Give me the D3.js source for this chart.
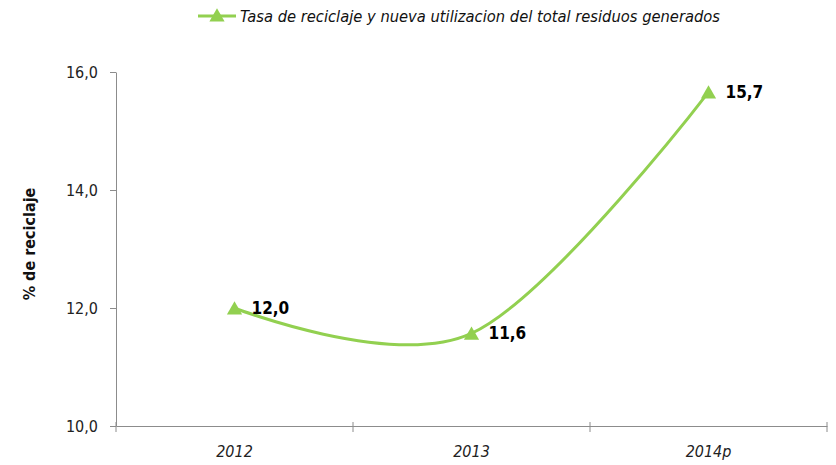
<!DOCTYPE html>
<html lang="en">
<head>
    <meta charset="UTF-8">
    <title>Tasa de reciclaje</title>
    <script src="https://d3js.org/d3.v7.min.js"></script>
    <style>
        body { margin: 0; background: #fff; }
        text { font-family: "DejaVu Sans Condensed", "Liberation Sans Narrow", sans-serif; }
    </style>
</head>
<body>
    <svg id="chart" width="836" height="465"></svg>
    <script>
        // Data
        const years = ["2012", "2013", "2014p"];
        const rates = [12.0, 11.57, 15.66];
        const yTicks = [10, 12, 14, 16];
        const seriesName = "Tasa de reciclaje y nueva utilizacion del total residuos generados";
        const yTitle = "% de reciclaje";

        const green = "#92D050";
        const axisColor = "#8c8c8c";
        const fmt = v => d3.format(".1f")(v).replace(".", ",");

        const svg = d3.select("#chart");
        const margin = { top: 72, right: 10, bottom: 39, left: 116 };
        const width = 836 - margin.left - margin.right,
              height = 465 - margin.top - margin.bottom;

        const x = d3.scaleBand().domain(years).range([0, 711]);
        const y = d3.scaleLinear().domain([10, 16]).range([height, 0]);
        const cx = d => x(d.year) + x.bandwidth() / 2;

        const g = svg.append("g").attr("transform", `translate(${margin.left},${margin.top})`);

        // y axis
        const yAxis = g.append("g").call(d3.axisLeft(y).tickValues(yTicks).tickFormat(fmt).tickSize(6).tickSizeOuter(0));
        yAxis.select(".domain").attr("stroke", axisColor);
        yAxis.selectAll(".tick line").attr("stroke", axisColor);
        yAxis.selectAll(".tick text").attr("font-size", 16).attr("fill", "#222").attr("x", -18)
            .style("font-family", "'DejaVu Sans Condensed', sans-serif");

        // x axis
        const xAxis = g.append("g").attr("transform", `translate(0,${height})`)
            .call(d3.axisBottom(x).tickSize(0).tickSizeOuter(0));
        xAxis.select(".domain").attr("stroke", axisColor);
        xAxis.selectAll(".tick text").attr("font-size", 16).attr("font-style", "italic").attr("fill", "#222")
            .attr("dy", 0).attr("y", 31)
            .style("font-family", "'DejaVu Sans Condensed', sans-serif");
        // tick marks between categories (Excel style)
        const bounds = [0].concat(years.map(d => x(d) + x.bandwidth()));
        g.append("g").selectAll("line").data(bounds).enter().append("line")
            .attr("x1", d => d).attr("x2", d => d)
            .attr("y1", height - 4).attr("y2", height + 6)
            .attr("stroke", axisColor);

        // y title
        g.append("text")
            .attr("transform", `translate(-81,${height / 2 - 5}) rotate(-90)`)
            .attr("text-anchor", "middle")
            .attr("font-size", 16).attr("font-weight", "bold").attr("fill", "#111")
            .text(yTitle);

        // smoothed line
        const pts = years.map((d, i) => ({ year: d, v: rates[i] }));
        const line = d3.line()
            .x(cx)
            .y(d => y(d.v))
            .curve(d3.curveCardinal.tension(0));
        g.append("path").datum(pts)
            .attr("fill", "none").attr("stroke", green).attr("stroke-width", 3)
            .attr("d", line);

        const tri = d3.symbol().type(d3.symbolTriangle).size(100);
        g.selectAll(".marker").data(pts).enter().append("path")
            .attr("class", "marker")
            .attr("transform", d => `translate(${cx(d)},${y(d.v) + 2})`)
            .attr("d", tri).attr("fill", green);

        g.selectAll(".lbl").data(pts).enter().append("text")
            .attr("class", "lbl")
            .attr("x", d => cx(d) + 17)
            .attr("y", d => y(d.v) + 6)
            .attr("font-size", 17).attr("font-weight", "bold").attr("fill", "#000")
            .text(d => fmt(d.v));

        // legend
        const lg = svg.append("g").attr("transform", "translate(198,16)");
        lg.append("line").attr("x1", 0).attr("x2", 38).attr("y1", 0).attr("y2", 0)
            .attr("stroke", green).attr("stroke-width", 3);
        lg.append("path").attr("transform", "translate(19,1)").attr("d", tri).attr("fill", green);
        lg.append("text").attr("x", 42).attr("y", 6)
            .attr("font-size", 16).attr("font-style", "italic").attr("fill", "#111")
            .attr("textLength", 480).attr("lengthAdjust", "spacingAndGlyphs")
            .text(seriesName);
    </script>
</body>
</html>
